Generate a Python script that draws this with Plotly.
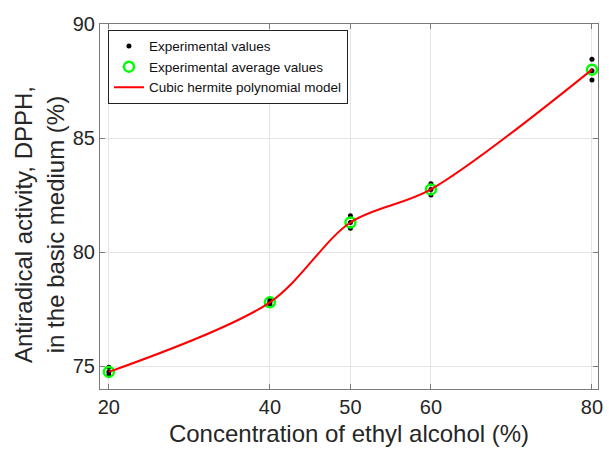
import plotly.graph_objects as go

# Data
conc_exp = [20, 20, 20, 40, 40, 40, 50, 50, 50, 60, 60, 60, 80, 80, 80]
act_exp = [74.95, 74.75, 74.6, 77.9, 77.8, 77.7, 81.6, 81.3, 81.05,
           83.0, 82.75, 82.5, 88.45, 87.95, 87.55]
conc_avg = [20, 40, 50, 60, 80]
act_avg = [74.75, 77.8, 81.3, 82.75, 88.0]
x_ticks = [20, 40, 50, 60, 80]
y_ticks = [75, 80, 85, 90]

fig = go.Figure()
fig.add_trace(go.Scatter(
    x=conc_exp, y=act_exp, mode="markers", name="Experimental values",
    marker=dict(color="black", size=5)))
fig.add_trace(go.Scatter(
    x=conc_avg, y=act_avg, mode="markers", name="Experimental average values",
    marker=dict(symbol="circle-open", color="#00ff00", size=10,
                line=dict(width=2.5, color="#00ff00"))))
fig.add_trace(go.Scatter(
    x=conc_avg, y=act_avg, mode="lines", name="Cubic hermite polynomial model",
    line=dict(color="#ff0000", width=2, shape="spline", smoothing=0.9)))

font = "Liberation Sans, Arial, sans-serif"
axis_common = dict(
    showgrid=True, gridcolor="#e4e4e4", gridwidth=1,
    showline=True, linecolor="#7a7a7a", linewidth=1, mirror="ticks",
    ticks="inside", ticklen=5, tickcolor="#7a7a7a",
    zeroline=False,
    tickfont=dict(family=font, size=20, color="#262626"),
)

fig.update_layout(
    width=609, height=452,
    margin=dict(l=100, r=6, t=24, b=63),
    paper_bgcolor="white", plot_bgcolor="white",
    font=dict(family=font, color="#262626"),
    showlegend=True,
    legend=dict(x=0.016, y=0.984, xanchor="left", yanchor="top",
                bgcolor="white", bordercolor="#222222", borderwidth=1,
                font=dict(family=font, size=13.5, color="#111111"),
                tracegroupgap=0, itemwidth=30),
    xaxis=dict(range=[18.9, 80.75], tickvals=x_ticks,
               title=dict(text="Concentration of ethyl alcohol (%)",
                          font=dict(family=font, size=24, color="#262626"),
                          standoff=8),
               **axis_common),
    yaxis=dict(range=[74, 90], tickvals=y_ticks, **axis_common),
    annotations=[dict(
        text="Antiradical activity, DPPH,<br>in the basic medium (%)",
        xref="paper", yref="paper", x=-0.122, y=0.45,
        xanchor="center", yanchor="middle", textangle=-90, showarrow=False,
        font=dict(family=font, size=24, color="#262626"))],
)

fig.write_html(
    "out.html",
    config={"displayModeBar": False},
    post_script="document.body.style.margin='0';document.body.style.overflow='hidden';",
)
